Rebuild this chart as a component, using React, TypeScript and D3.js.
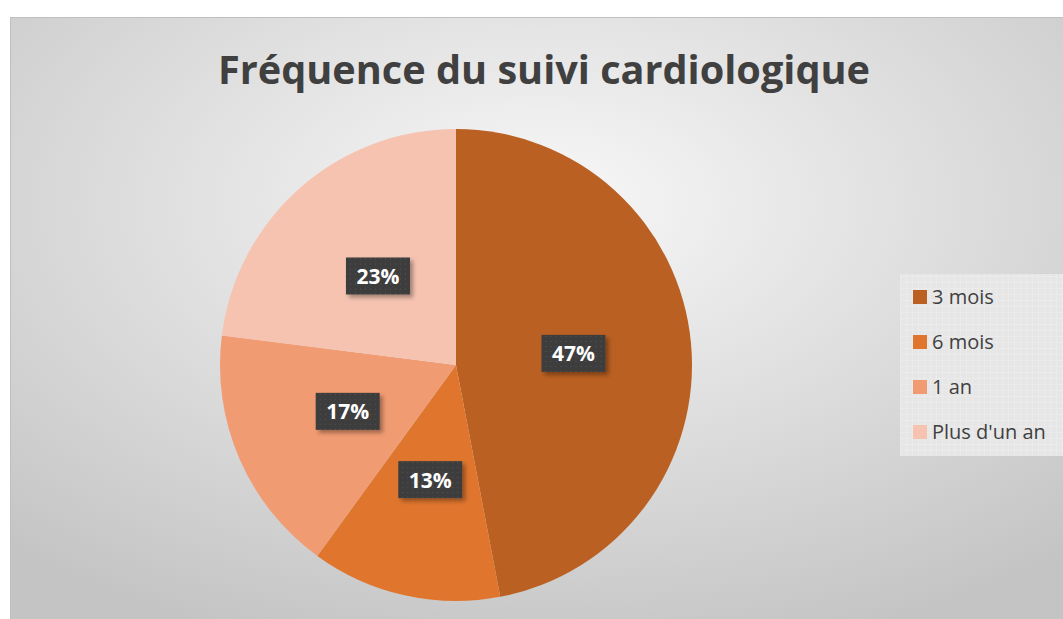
import * as d3 from 'd3'
import { useEffect, useRef } from 'react'

const categories = ['3 mois', '6 mois', '1 an', "Plus d'un an"]
const values = [47, 13, 17, 23]
const colors = ['#BA6022', '#E0762E', '#F09B72', '#F6C3B1']
const title = 'Fréquence du suivi cardiologique'

export default function App() {
  const ref = useRef<SVGSVGElement>(null)

  useEffect(() => {
    const width = 1063
    const height = 619
    const svg = d3.select(ref.current).attr('width', width).attr('height', height)
    svg.selectAll('*').remove()

    const defs = svg.append('defs')
    const bg = defs.append('radialGradient').attr('id', 'bg')
      .attr('cx', '50%').attr('cy', '30%').attr('r', '75%')
    bg.append('stop').attr('offset', '0%').attr('stop-color', '#f8f8f8')
    bg.append('stop').attr('offset', '100%').attr('stop-color', '#c4c4c4')

    const dots = defs.append('pattern').attr('id', 'dots')
      .attr('width', 5).attr('height', 5).attr('patternUnits', 'userSpaceOnUse')
    dots.append('rect').attr('width', 5).attr('height', 5).attr('fill', '#3d3d3d')
    dots.append('rect').attr('x', 2).attr('y', 2).attr('width', 1).attr('height', 1).attr('fill', '#565656')

    const grid = defs.append('pattern').attr('id', 'grid')
      .attr('width', 6).attr('height', 6).attr('patternUnits', 'userSpaceOnUse')
    grid.append('rect').attr('width', 6).attr('height', 6).attr('fill', '#e6e6e6')
    grid.append('rect').attr('width', 6).attr('height', 1).attr('fill', '#ebebeb')
    grid.append('rect').attr('width', 1).attr('height', 6).attr('fill', '#ebebeb')

    const shadow = defs.append('filter').attr('id', 'shadow')
      .attr('x', '-20%').attr('y', '-20%').attr('width', '150%').attr('height', '160%')
    shadow.append('feDropShadow').attr('dx', 3).attr('dy', 3).attr('stdDeviation', 2)
      .attr('flood-color', '#000').attr('flood-opacity', 0.35)

    svg.append('rect').attr('width', width).attr('height', height).attr('fill', '#fff')
    svg.append('rect')
      .attr('x', 10.5).attr('y', 17.5).attr('width', width).attr('height', height)
      .attr('fill', 'url(#bg)').attr('stroke', '#bfbfbf')

    svg.append('text')
      .attr('x', 544).attr('y', 84)
      .attr('text-anchor', 'middle')
      .attr('font-family', 'Open Sans, sans-serif')
      .attr('font-weight', 'bold')
      .attr('font-size', 40)
      .attr('fill', '#404040')
      .attr('textLength', 652)
      .attr('lengthAdjust', 'spacingAndGlyphs')
      .text(title)

    const cx = 456
    const cy = 365
    const r = 236
    const pie = d3.pie<number>().sort(null).value(d => d)
    const arcs = pie(values)
    const arc = d3.arc<d3.PieArcDatum<number>>().innerRadius(0).outerRadius(r)

    const g = svg.append('g').attr('transform', `translate(${cx},${cy})`)
    g.selectAll('path')
      .data(arcs)
      .join('path')
      .attr('d', arc)
      .attr('fill', (d, i) => colors[i])

    const total = d3.sum(values)
    const labels = g.selectAll('g.label')
      .data(arcs)
      .join('g')
      .attr('class', 'label')
      .attr('transform', d => `translate(${arc.centroid(d)})`)
    labels.append('rect')
      .attr('x', -32).attr('y', -19).attr('width', 64).attr('height', 37)
      .attr('fill', 'url(#dots)')
      .attr('filter', 'url(#shadow)')
    labels.append('text')
      .attr('text-anchor', 'middle')
      .attr('dy', '0.36em')
      .attr('font-family', 'Open Sans, sans-serif')
      .attr('font-weight', 'bold')
      .attr('font-size', 21)
      .attr('fill', '#fff')
      .text(d => `${Math.round((d.data / total) * 100)}%`)

    const legend = svg.append('g')
    legend.append('rect')
      .attr('x', 900).attr('y', 274).attr('width', 163).attr('height', 182)
      .attr('fill', 'url(#grid)')
    const ly = d3.scalePoint<string>().domain(categories).range([297, 432])
    const items = legend.selectAll('g.item')
      .data(categories)
      .join('g')
      .attr('class', 'item')
      .attr('transform', d => `translate(913,${ly(d)})`)
    items.append('rect')
      .attr('x', 0).attr('y', -7).attr('width', 14).attr('height', 14)
      .attr('fill', (d, i) => colors[i])
    items.append('text')
      .attr('x', 19).attr('dy', '0.36em')
      .attr('font-family', 'Open Sans, sans-serif')
      .attr('font-size', 20)
      .attr('fill', '#404040')
      .text(d => d)
  }, [])

  return (
    <div style={{ position: 'absolute', left: 0, top: 0 }}>
      <svg ref={ref} style={{ display: 'block' }}></svg>
    </div>
  )
}
